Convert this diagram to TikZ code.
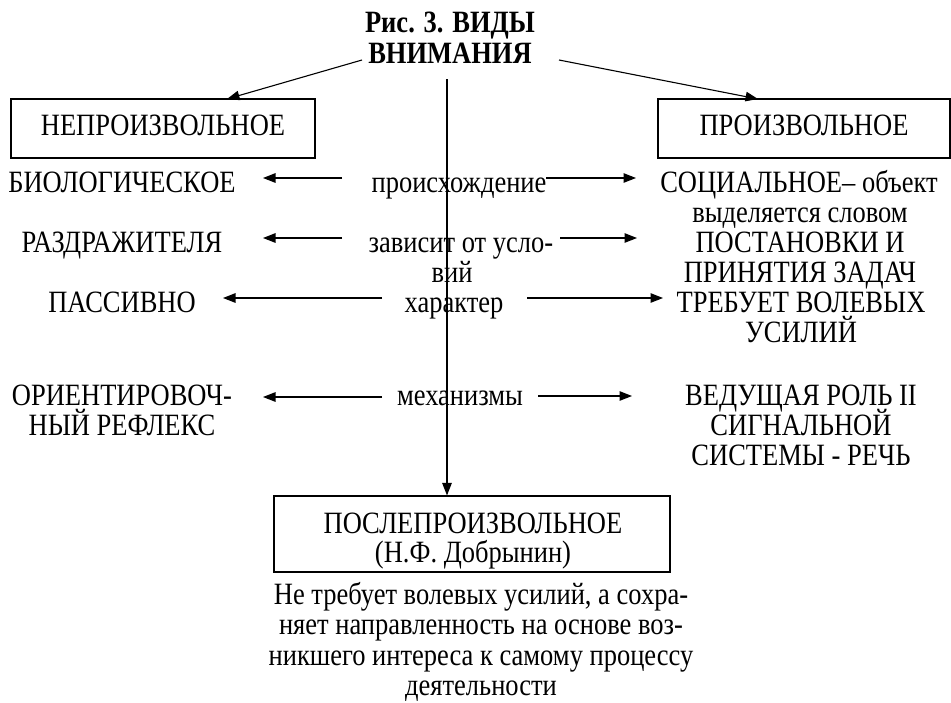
\documentclass[tikz,border=0pt]{standalone}
\usepackage{fontspec}
\setmainfont[FakeStretch=0.855]{Liberation Serif}
\usetikzlibrary{arrows.meta}
\tikzset{
  txt/.style={font=\fontsize{31}{30.5}\selectfont, inner sep=0pt, anchor=base},
  ttl/.style={font=\fontsize{31}{30.5}\selectfont\bfseries, inner sep=0pt, anchor=base},
  box/.style={draw, line width=1.1pt, inner sep=0pt, font=\fontsize{31}{30.5}\selectfont,
              text height=20.5pt, text depth=7.5pt},
  arr/.style={line width=1.1pt, -{Triangle[length=12.5pt,width=9.5pt]}},
}
\begin{document}
\begin{tikzpicture}[x=1pt,y=-1pt]
\useasboundingbox (0,0) rectangle (951,702);
\fill[white] (0,0) rectangle (951,702);

% title
\node[ttl] (t1) at (450,32) {Рис. 3. ВИДЫ};
\node[ttl] (t2) at (450,63) {ВНИМАНИЯ};

% top boxes
\node[box, minimum width=304pt, minimum height=59pt] (inv) at (163,128.5) {НЕПРОИЗВОЛЬНОЕ};
\node[box, minimum width=292pt, minimum height=59pt] (vol) at (804,128.5) {ПРОИЗВОЛЬНОЕ};

% left column
\node[txt] (l1)  at (122,192) {БИОЛОГИЧЕСКОЕ};
\node[txt] (l2)  at (122,252) {РАЗДРАЖИТЕЛЯ};
\node[txt] (l3)  at (122,312) {ПАССИВНО};
\node[txt] (l4a) at (122,405) {ОРИЕНТИРОВОЧ-};
\node[txt] (l4b) at (122,435) {НЫЙ РЕФЛЕКС};

% centre column
\node[txt] (c1)  at (459,192) {происхождение};
\node[txt] (c2a) at (461,252) {зависит от усло-};
\node[txt] (c2b) at (452,282) {вий};
\node[txt] (c3)  at (454,312) {характер};
\node[txt] (c4)  at (460,405) {механизмы};

% right column
\node[txt] (r1a) at (799,192) {СОЦИАЛЬНОЕ– объект};
\node[txt] (r1b) at (800,222) {выделяется словом};
\node[txt] (r2a) at (800,252) {ПОСТАНОВКИ И};
\node[txt] (r2b) at (800,282) {ПРИНЯТИЯ ЗАДАЧ};
\node[txt] (r3a) at (801,312) {ТРЕБУЕТ ВОЛЕВЫХ};
\node[txt] (r3b) at (801,342) {УСИЛИЙ};
\node[txt] (r4a) at (801,405) {ВЕДУЩАЯ РОЛЬ II};
\node[txt] (r4b) at (801,435) {СИГНАЛЬНОЙ};
\node[txt] (r4c) at (801,465) {СИСТЕМЫ - РЕЧЬ};

% bottom box
\node[draw, line width=1.1pt, minimum width=396pt, minimum height=76pt, inner sep=0pt] (post) at (472,534) {};
\node[txt] (p1) at (473,533) {ПОСЛЕПРОИЗВОЛЬНОЕ};
\node[txt] (p2) at (473,562) {(Н.Ф. Добрынин)};

% bottom note
\node[txt] (n1) at (481,604)   {Не требует волевых усилий, а сохра-};
\node[txt] (n2) at (481,634.5) {няет направленность на основе воз-};
\node[txt] (n3) at (481,665)   {никшего интереса к самому процессу};
\node[txt] (n4) at (481,695.5) {деятельности};

% coordinates for connector ends
\coordinate (tL) at (362,60);  \coordinate (hL) at (227,99);
\coordinate (tR) at (559,60);  \coordinate (hR) at (758,99);
\coordinate (vT) at (447,79);

\coordinate (a1ls) at (342,178); \coordinate (a1le) at (263,178);
\coordinate (a1rs) at (546,178); \coordinate (a1re) at (636,178);
\coordinate (a2ls) at (342,238); \coordinate (a2le) at (263,238);
\coordinate (a2rs) at (560,238); \coordinate (a2re) at (637,238);
\coordinate (a3ls) at (382,298); \coordinate (a3le) at (223,298);
\coordinate (a3rs) at (527,298); \coordinate (a3re) at (663,298);
\coordinate (a4ls) at (382,397); \coordinate (a4le) at (263,397);
\coordinate (a4rs) at (538,396); \coordinate (a4re) at (632,396);

% connectors
\draw[arr] (tL) -- (hL);
\draw[arr] (tR) -- (hR);
\draw[arr] (vT) -- (vT |- post.north);

\draw[arr] (a1ls) -- (a1le);
\draw[arr] (a1rs) -- (a1re);
\draw[arr] (a2ls) -- (a2le);
\draw[arr] (a2rs) -- (a2re);
\draw[arr] (a3ls) -- (a3le);
\draw[arr] (a3rs) -- (a3re);
\draw[arr] (a4ls) -- (a4le);
\draw[arr] (a4rs) -- (a4re);
\end{tikzpicture}
\end{document}
